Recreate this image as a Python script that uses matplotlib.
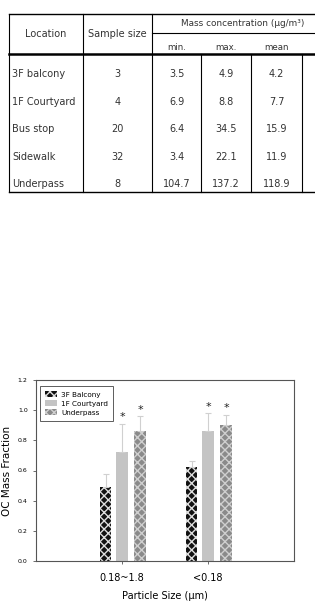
import matplotlib.pyplot as plt
import numpy as np

# table data
locations = ["3F balcony", "1F Courtyard", "Bus stop", "Sidewalk", "Underpass"]
sample_size = [3, 4, 20, 32, 8]
conc_min = [3.5, 6.9, 6.4, 3.4, 104.7]
conc_max = [4.9, 8.8, 34.5, 22.1, 137.2]
conc_mean = [4.2, 7.7, 15.9, 11.9, 118.9]

# bar chart data
size_groups = ["0.18~1.8", "<0.18"]
sites = ["3F Balcony", "1F Courtyard", "Underpass"]
oc_frac = [[0.49, 0.62], [0.72, 0.86], [0.86, 0.90]]
oc_err = [[0.09, 0.04], [0.19, 0.12], [0.10, 0.07]]
signif = [[False, False], [True, True], [True, True]]

W, H = 315, 606
fig = plt.figure(figsize=(W / 100, H / 100), dpi=100)

# ---- table, drawn in pixel coords
tab = fig.add_axes([0, 0, 1, 1])
tab.set_xlim(0, W)
tab.set_ylim(H, 0)
tab.axis("off")

col_x = [9, 83, 152, 201, 251, 302]
top, mid, head, bot = 14, 33, 54, 192
row_y = [74, 102, 129, 157, 184]
fs = 7
txt_c = "#333333"

tab.plot([col_x[0], W], [top, top], color="k", lw=1)
tab.plot([col_x[2], W], [mid, mid], color="k", lw=0.8)
tab.plot([col_x[0], W], [head, head], color="k", lw=1.8)
tab.plot([col_x[0], W], [bot, bot], color="k", lw=1)
for i, x in enumerate(col_x):
    y0 = top if i < 3 else head
    tab.plot([x, x], [y0, bot], color="k", lw=0.8)

tab.text((col_x[0] + col_x[1]) / 2, 34, "Location", ha="center", va="center", fontsize=fs, color=txt_c)
tab.text((col_x[1] + col_x[2]) / 2, 34, "Sample size", ha="center", va="center", fontsize=fs, color=txt_c)
tab.text(181, 24, "Mass concentration (\u03bcg/m\u00b3)", ha="left", va="center", fontsize=6.4, color=txt_c)
for j, h in enumerate(["min.", "max.", "mean"]):
    tab.text((col_x[2 + j] + col_x[3 + j]) / 2, 47, h, ha="center", va="center", fontsize=fs - 0.8, color=txt_c)

for i in range(len(locations)):
    y = row_y[i]
    tab.text(12, y, locations[i], ha="left", va="center", fontsize=fs, color=txt_c)
    tab.text((col_x[1] + col_x[2]) / 2, y, str(sample_size[i]), ha="center", va="center", fontsize=fs, color=txt_c)
    for j, v in enumerate([conc_min[i], conc_max[i], conc_mean[i]]):
        tab.text((col_x[2 + j] + col_x[3 + j]) / 2, y, f"{v:.1f}", ha="center", va="center", fontsize=fs, color=txt_c)

# ---- bar chart
ax = fig.add_axes([36 / W, 1 - 561 / H, 258 / W, 181 / H])
xpos = np.arange(1, len(size_groups) + 1)
width = 0.13
offsets = [-0.19, 0.0, 0.21]
styles = [
    dict(color="#111111", hatch="xxxx", edgecolor="#dddddd"),
    dict(color="#c4c4c4", edgecolor="#c4c4c4"),
    dict(color="#8a8a8a", hatch="xxxx", edgecolor="#cfcfcf"),
]
for k in range(len(sites)):
    xs = xpos + offsets[k]
    ax.bar(xs, oc_frac[k], width, label=sites[k], linewidth=0, **styles[k])
    ax.errorbar(xs, oc_frac[k], yerr=[np.zeros(len(xs)), oc_err[k]], fmt="none",
                ecolor="#d0d0d0", elinewidth=0.8, capsize=2.5, capthick=0.8)
    for i in range(len(xs)):
        if signif[k][i]:
            ax.text(xs[i], oc_frac[k][i] + oc_err[k][i] + 0.01, "*", ha="center", va="bottom",
                    fontsize=8, color="#222222", zorder=5)

ax.set_xlim(0, 3)
ax.set_ylim(0, 1.2)
ax.set_yticks(np.arange(0, 1.21, 0.2))
ax.set_yticklabels([f"{v:.1f}" for v in np.arange(0, 1.21, 0.2)], fontsize=4.5)
ax.set_xticks(xpos)
ax.set_xticklabels(size_groups, fontsize=7)
ax.tick_params(axis="both", length=2.5, width=0.6, color="#555555")
ax.tick_params(axis="x", pad=6)
for s in ax.spines.values():
    s.set_linewidth(0.8)
    s.set_color("#555555")
ax.set_ylabel("OC Mass Fraction", fontsize=7.5)
ax.set_xlabel("Particle Size (\u03bcm)", fontsize=7, labelpad=6)
leg = ax.legend(loc="upper left", fontsize=5.2, frameon=True, fancybox=False,
                edgecolor="#333333", handlelength=1.7, handleheight=0.9, handletextpad=0.5,
                borderpad=0.7, labelspacing=0.35, borderaxespad=0,
                bbox_to_anchor=(0.016, 0.967))
leg.get_frame().set_linewidth(0.7)

fig.savefig("out.png", dpi=100)
